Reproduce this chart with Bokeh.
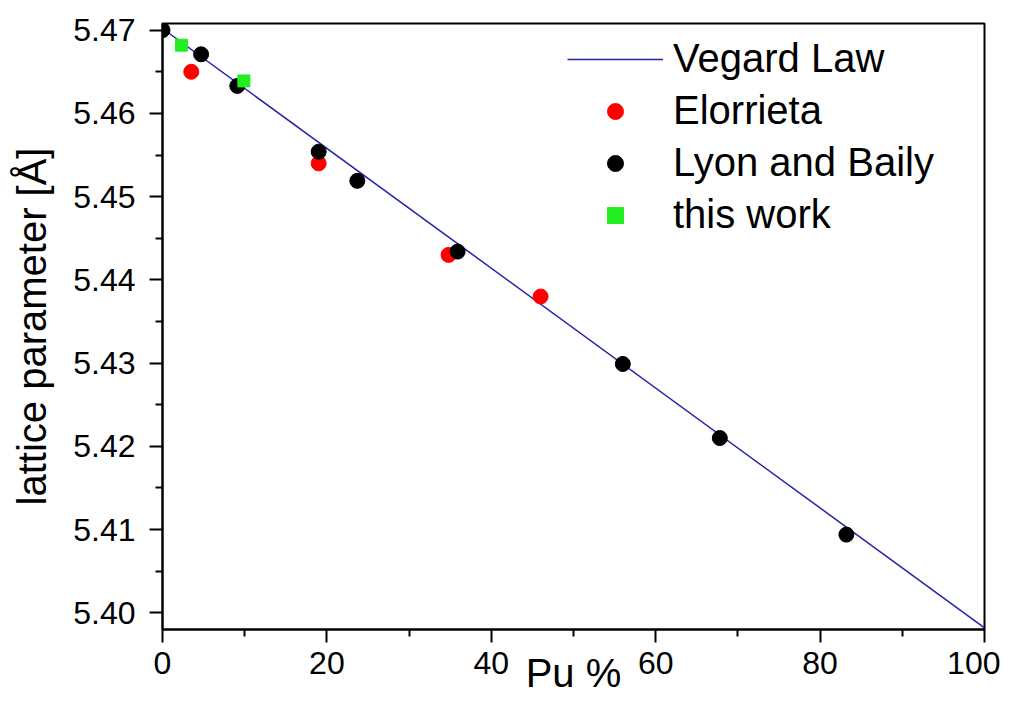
from bokeh.plotting import figure
from bokeh.models import Range1d, FixedTicker, PrintfTickFormatter, Legend, LegendItem
from bokeh.embed import file_html
from bokeh.resources import INLINE

# Data
vegard_x = [0, 100]
vegard_y = [5.4702, 5.3982]

elorrieta_x = [3.5, 19.0, 34.8, 46.0]
elorrieta_y = [5.4650, 5.4540, 5.4430, 5.4380]

lyon_x = [0.0, 4.7, 9.1, 19.0, 23.7, 35.9, 56.0, 67.8, 83.2]
lyon_y = [5.4700, 5.4671, 5.4633, 5.4554, 5.4519, 5.4434, 5.4299, 5.4210, 5.4094]

this_x = [2.3, 9.9]
this_y = [5.4682, 5.4639]

x_ticks = [0, 20, 40, 60, 80, 100]
x_minor = [10, 30, 50, 70, 90]
y_ticks = [5.40, 5.41, 5.42, 5.43, 5.44, 5.45, 5.46, 5.47]
y_minor = [5.405, 5.415, 5.425, 5.435, 5.445, 5.455, 5.465]

FONT = "Liberation Sans"

p = figure(width=1000, height=697, output_backend="svg", toolbar_location=None,
           x_range=Range1d(0, 100), y_range=Range1d(5.398, 5.4708),
           min_border_left=162, min_border_right=16, min_border_top=23, min_border_bottom=68)

p.grid.visible = False
p.outline_line_color = "black"
p.outline_line_width = 2
p.background_fill_color = "white"
p.border_fill_color = "white"

l_line = p.line(vegard_x, vegard_y, line_color="#2222aa", line_width=1.5)
l_el = p.scatter(elorrieta_x, elorrieta_y, marker="circle", size=15, fill_color="#ff0000", line_color="#ff0000")
l_ly = p.scatter(lyon_x, lyon_y, marker="circle", size=15, fill_color="black", line_color="black")
l_tw = p.scatter(this_x, this_y, marker="square", size=12, fill_color="#22ee22", line_color="#22ee22")

for ax in (p.xaxis[0], p.yaxis[0]):
    ax.axis_line_width = 2
    ax.major_tick_line_width = 2
    ax.minor_tick_line_width = 2
    ax.major_tick_out = 13
    ax.major_tick_in = 0
    ax.minor_tick_out = 7
    ax.minor_tick_in = 0
    ax.major_label_text_font = FONT
    ax.major_label_text_font_size = "32px"
    ax.major_label_text_color = "black"
    ax.axis_label_text_font = FONT
    ax.axis_label_text_font_size = "40px"
    ax.axis_label_text_font_style = "normal"
    ax.axis_label_text_color = "black"

p.xaxis[0].ticker = FixedTicker(ticks=x_ticks, minor_ticks=x_minor)
p.xaxis[0].formatter = PrintfTickFormatter(format="%d")
p.xaxis[0].major_label_standoff = 9
p.xaxis[0].axis_label = "Pu %"
p.xaxis[0].axis_label_standoff = -26

p.yaxis[0].ticker = FixedTicker(ticks=y_ticks, minor_ticks=y_minor)
p.yaxis[0].formatter = PrintfTickFormatter(format="%.2f")
p.yaxis[0].axis_label = "lattice parameter [Å]"
p.yaxis[0].major_label_standoff = 14
p.yaxis[0].axis_label_standoff = 16

legend = Legend(items=[
    LegendItem(label="Vegard Law", renderers=[l_line]),
    LegendItem(label="Elorrieta", renderers=[l_el]),
    LegendItem(label="Lyon and Baily", renderers=[l_ly]),
    LegendItem(label="this work", renderers=[l_tw]),
], location=(405, 392))
legend.label_text_font = FONT
legend.label_text_font_size = "40px"
legend.label_text_color = "black"
legend.label_height = 40
legend.glyph_height = 40
legend.glyph_width = 96
legend.spacing = 7
legend.label_standoff = 10
legend.padding = 0
legend.margin = 0
legend.border_line_alpha = 0
legend.background_fill_alpha = 0
p.add_layout(legend)

open("out.html", "w").write(file_html(p, INLINE))
